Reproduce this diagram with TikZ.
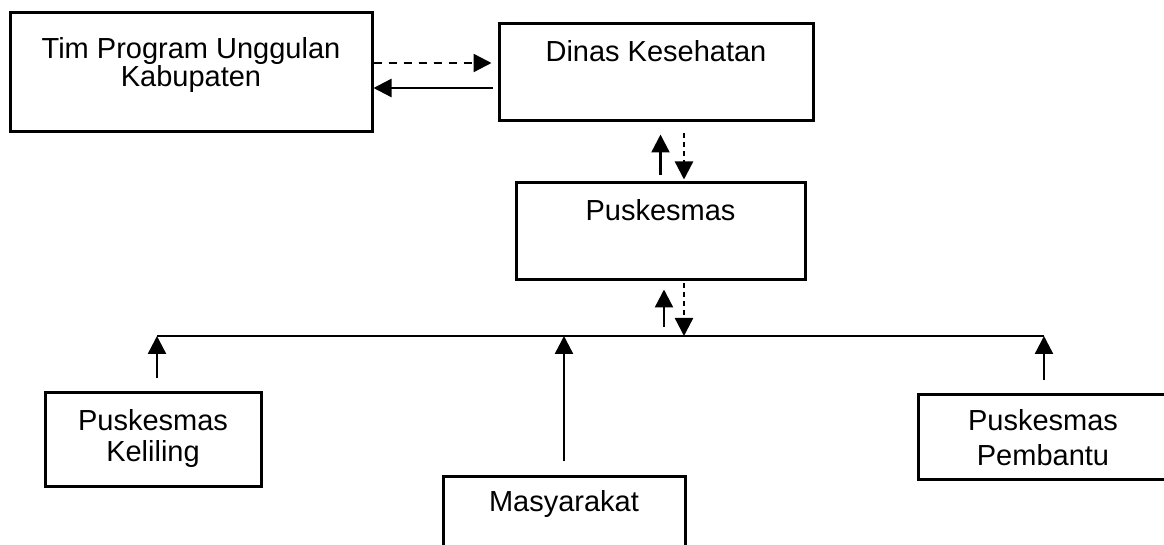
\documentclass[tikz,border=0pt]{standalone}
\usepackage{fontspec}
\setmainfont{Liberation Sans}
\usetikzlibrary{arrows.meta,calc}

\begin{document}
\begin{tikzpicture}[x=0.5pt,y=-0.5pt,
    box/.style={draw,line width=1.5pt,inner sep=0pt},
    lbl/.style={anchor=north,align=center,inner sep=0pt},
    arr/.style={-{Triangle[length=9pt,width=9pt]},line width=1.2pt},
    darr/.style={arr,dash pattern=on 4pt off 3.5pt},
    vdarr/.style={arr,dash pattern=on 2.5pt off 2pt}]
    \useasboundingbox (0,0) rectangle (1164,545);
    \clip (0,0) rectangle (1164,545);

    \node[box,minimum width=181pt,minimum height=59.5pt] (tim) at (191,72.5) {};
    \node[box,minimum width=157pt,minimum height=48.5pt] (dinas) at (656,72.5) {};
    \node[box,minimum width=144.5pt,minimum height=48.5pt] (pusk) at (660.5,231.5) {};
    \node[box,minimum width=108pt,minimum height=47pt] (kel) at (153,440) {};
    \node[box,minimum width=121pt,minimum height=50pt] (masy) at (564,527) {};
    \node[box,minimum width=125pt,minimum height=42.5pt] (pemb) at (1043,437.5) {};

    \node[lbl,font=\fontsize{14.5}{14}\selectfont] (tim-t) at ($(tim.north)+(0,26)$) {Tim Program Unggulan\\Kabupaten};
    \node[lbl,font=\fontsize{14.5}{15}\selectfont] (dinas-t) at ($(dinas.north)+(0,18)$) {Dinas Kesehatan};
    \node[lbl,font=\fontsize{14.5}{15}\selectfont] (pusk-t) at ($(pusk.north)+(0,18)$) {Puskesmas};
    \node[lbl,font=\fontsize{14.5}{15.5}\selectfont] (kel-t) at ($(kel.north)+(0,18)$) {Puskesmas\\Keliling};
    \node[lbl,font=\fontsize{14.5}{15}\selectfont] (masy-t) at ($(masy.north)+(0,15)$) {Masyarakat};
    \node[lbl,font=\fontsize{14.5}{17.5}\selectfont] (pemb-t) at ($(pemb.north)+(0,16)$) {Puskesmas\\Pembantu};

    \draw[darr,shorten >=3pt] ($(tim.east)+(0,-9.5)$) -- ($(dinas.west)+(0,-9.5)$);
    \draw[arr,shorten <=2.5pt] ($(dinas.west)+(0,15.5)$) -- ($(tim.east)+(0,15.5)$);

    \coordinate (d1) at ($(pusk.north)+(23.5,0)$);
    \draw[arr,shorten <=3pt,shorten >=6pt] (pusk.north) -- (pusk.north |- dinas.south);
    \draw[vdarr,shorten <=5.5pt,shorten >=1pt] (d1 |- dinas.south) -- (d1);

    \coordinate (busL) at (157,336);
    \coordinate (busR) at (1044,336);
    \draw[line width=0.9pt] (busL) -- (busR);

    \coordinate (u2) at ($(pusk.south)+(3.5,0)$);
    \coordinate (d2) at ($(pusk.south)+(23.5,0)$);
    \draw[arr,shorten <=4.5pt,shorten >=4pt] (u2 |- busL) -- (u2);
    \draw[vdarr,shorten <=1pt] (d2) -- (d2 |- busL);

    \draw[arr,shorten <=6.5pt] (kel.north -| busL) -- (busL);
    \draw[arr,shorten <=7pt] (masy.north) -- (masy.north |- busL);
    \draw[arr,shorten <=6.5pt] (pemb.north -| busR) -- (busR);
\end{tikzpicture}
\end{document}
